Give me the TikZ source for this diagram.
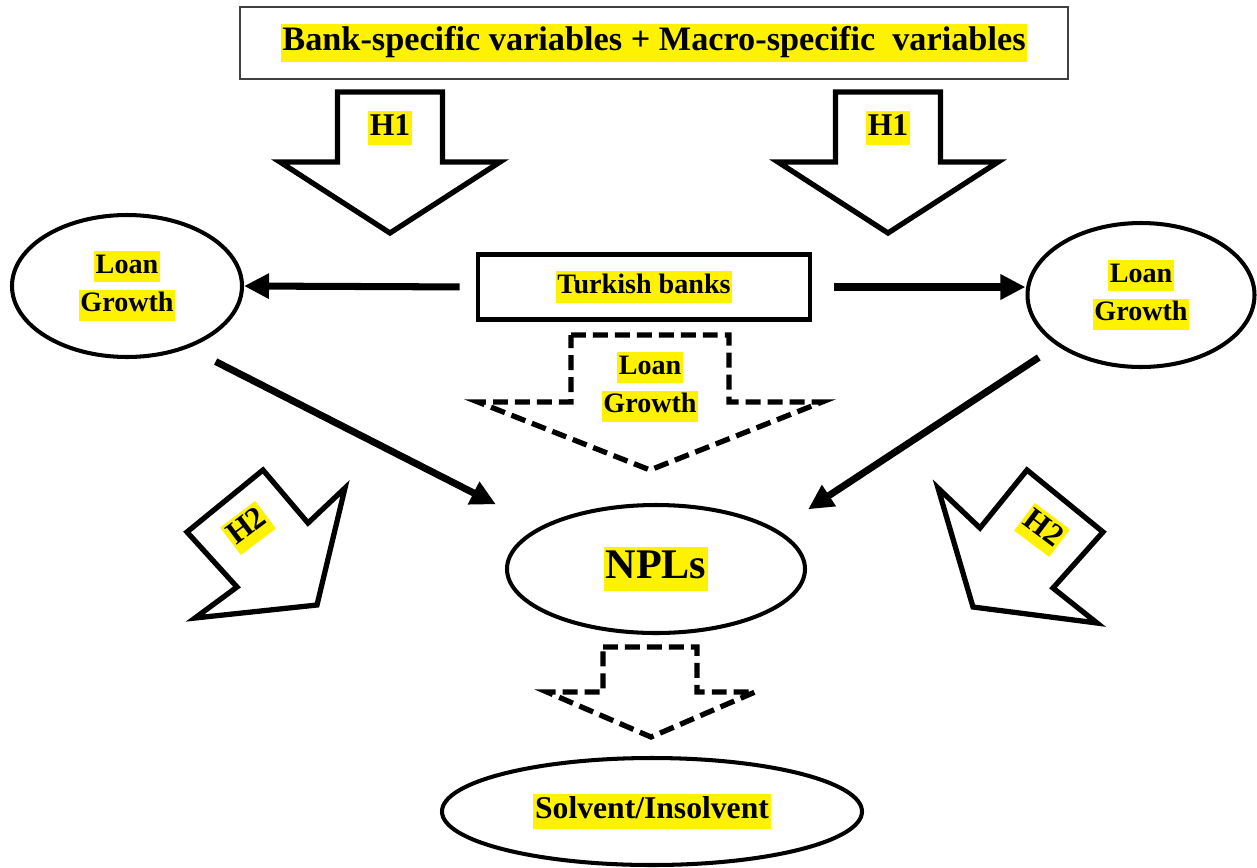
\documentclass[tikz,border=0pt]{standalone}
\usepackage{fontspec}
\setmainfont{Liberation Serif}
\usetikzlibrary{arrows.meta,shapes.geometric}
\setlength{\fboxsep}{1pt}
\newcommand{\hilite}[1]{\colorbox{yellow}{\rule[-0.26em]{0pt}{0.98em}#1}}

\begin{document}
\begin{tikzpicture}[
    oval/.style={ellipse, draw, line width=2.3pt, inner sep=0pt, align=center, font=\bfseries\fontsize{16}{22}\selectfont},
    conn/.style={line width=4pt, -{Triangle[length=0.5cm,width=0.48cm]}},
    blockarrow/.style={draw, line width=3pt, line join=miter, fill=white},
    dasharrow/.style={draw, line width=3pt, dash pattern=on 8.5pt off 4pt},
    hlabel/.style={inner sep=0pt, font=\bfseries\fontsize{18}{22}\selectfont}
]
    \useasboundingbox (0,0) rectangle (25.14,-17.34);

    % Draw nodes for the variables
    \node[draw=black!75, line width=1.2pt, minimum width=16.56cm, minimum height=1.44cm, font=\bfseries\fontsize{19.5}{24}\selectfont] (vars) at (13.08,-0.86) {\hilite{Bank-specific variables + Macro-specific\ \ variables}};

    % H1 arrows
    \foreach \x/\n in {7.8/l, 17.76/r} {
        \draw[blockarrow] (\x-1.05,-1.84) -- (\x+1.05,-1.84) -- (\x+1.05,-3.24) -- (\x+2.2,-3.24) -- (\x,-4.66) -- (\x-2.2,-3.24) -- (\x-1.05,-3.24) -- cycle;
        \node[hlabel] (h1\n) at (\x,-2.56) {\hilite{H1}};
    }

    % Draw nodes for the banks
    \node[oval, minimum width=4.6cm, minimum height=2.84cm] (lgl) at (2.54,-5.72) {\hilite{Loan}\\\hilite{Growth}};
    \node[draw, line width=2.6pt, minimum width=6.64cm, minimum height=1.3cm, font=\bfseries\fontsize{16}{20}\selectfont] (banks) at (12.88,-5.74) {\hilite{Turkish banks}};
    \node[oval, minimum width=4.54cm, minimum height=2.88cm] (lgr) at (22.82,-5.9) {\hilite{Loan}\\\hilite{Growth}};

    % dashed loan growth arrow
    \draw[dasharrow] (11.42,-6.7) -- (14.58,-6.7) -- (14.58,-8.04) -- (16.44,-8.04) -- (13,-9.4) -- (9.56,-8.04) -- (11.42,-8.04) -- cycle;
    \node[align=center, inner sep=0pt, font=\bfseries\fontsize{16}{22}\selectfont] (lgm) at (13,-7.74) {\hilite{Loan}\\\hilite{Growth}};

    % H2 arrows
    \draw[blockarrow] (3.74,-10.64) -- (5.26,-9.40) -- (6.16,-10.46) -- (6.90,-9.76) -- (6.34,-12.10) -- (3.90,-12.36) -- (4.74,-11.74) -- cycle;
    \node[hlabel, rotate=37] (h2l) at (4.96,-10.56) {\hilite{H2}};
    \draw[blockarrow] (18.76,-9.76) -- (19.60,-10.56) -- (20.54,-9.40) -- (22.06,-10.64) -- (21.06,-11.76) -- (21.94,-12.46) -- (19.46,-12.14) -- cycle;
    \node[hlabel, rotate=-37] (h2r) at (20.84,-10.6) {\hilite{H2}};

    % Draw nodes for NPLs and outcome
    \node[oval, minimum width=5.96cm, minimum height=2.56cm, font=\bfseries\fontsize{24}{28}\selectfont] (npl) at (13.12,-11.38) {\hilite{NPLs}};
    \draw[dasharrow] (12.06,-12.94) -- (13.94,-12.94) -- (13.94,-13.84) -- (15.1,-13.84) -- (13.02,-14.74) -- (10.94,-13.84) -- (12.06,-13.84) -- cycle;
    \node[oval, minimum width=8.4cm, minimum height=2.14cm, font=\bfseries\fontsize{18}{22}\selectfont] (sol) at (13.04,-16.23) {\hilite{Solvent/Insolvent}};

    % Draw edges
    \draw[conn, shorten <=0.32cm] (banks.west) -- (lgl.east);
    \draw[conn, shorten <=0.44cm] (banks.east) -- (banks.east -| lgr.west);
    \draw[conn, shorten <=0.6cm, shorten >=0.99cm] (lgl.-45) -- (npl.160);
    \draw[conn, shorten <=0.43cm, shorten >=0.74cm] (lgr.211) -- (npl.18);
\end{tikzpicture}
\end{document}
